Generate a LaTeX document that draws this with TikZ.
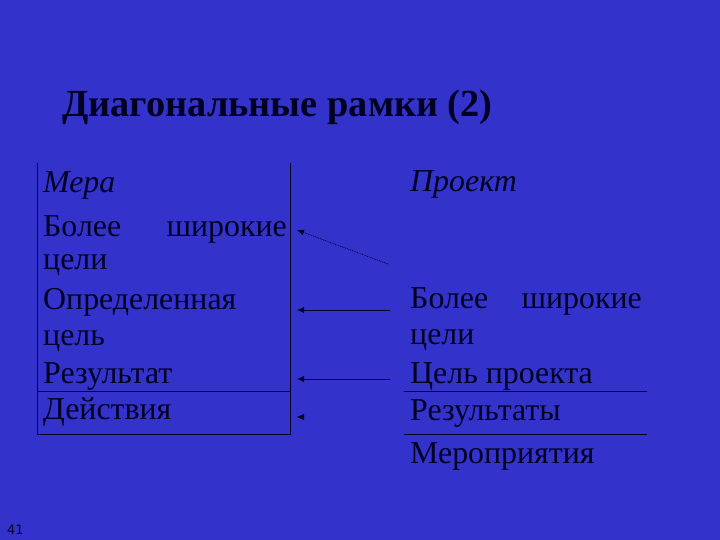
\documentclass[tikz,border=0pt]{standalone}
\usepackage{fontspec}
\setmainfont{Liberation Serif}
\setsansfont{DejaVu Sans}
\newfontfamily\slidefont{Liberation Serif}
\usetikzlibrary{arrows.meta}
\definecolor{slideblue}{RGB}{51,51,204}
\definecolor{ink}{RGB}{0,0,35}
\tikzset{
  cell/.style={anchor=base west,inner sep=0pt,text=ink,font=\slidefont\fontsize{32}{32}\selectfont},
  rule/.style={draw=ink,line width=0.8bp},
  link/.style={draw=ink,line width=0.8bp,{Latex[length=7bp,width=6bp]}-}
}
\begin{document}
\begin{tikzpicture}[x=1bp,y=-1bp]
            \fill[slideblue] (0,0) rectangle (720,540);
            \useasboundingbox (0,0) rectangle (720,540);
            \node[anchor=base west,inner sep=0pt,text=ink,font=\slidefont\fontsize{38.5}{38.5}\selectfont\bfseries] (title) at (62,117) {Диагональные рамки (2)};
            % left frame
            \draw[rule] (37,163)--(37,434)--(290,434)--(290,163);
            \draw[rule] (37,391)--(290,391);
            \node[cell] (mera) at (43,193) {\itshape Мера};
            \node[cell] (lwide) at (43,237) {Более};
            \node[cell,anchor=base east] (lwideb) at (287,237) {широкие};
            \node[cell] (lgoals) at (43,270) {цели};
            \node[cell] (lspec) at (43,309) {Определенная};
            \node[cell] (lgoal) at (43,345) {цель};
            \node[cell] (lres) at (43,383) {Результат};
            \node[cell] (lact) at (43,419) {Действия};
            % right frame
            \draw[rule] (404,391)--(647,391);
            \draw[rule] (404,434)--(647,434);
            \node[cell] (proj) at (410,192) {\itshape Проект};
            \node[cell] (rwide) at (410,308) {Более};
            \node[cell,anchor=base east] (rwideb) at (642,308) {широкие};
            \node[cell] (rgoals) at (410,344) {цели};
            \node[cell] (rgoal) at (410,383) {Цель проекта};
            \node[cell] (rres) at (410,420) {Результаты};
            \node[cell] (ract) at (410,463) {Мероприятия};
            % arrows
            \coordinate (a1) at (297,230); \coordinate (b1) at (388,264);
            \coordinate (a2) at (297,310); \coordinate (b2) at (390,310);
            \coordinate (a3) at (297,379); \coordinate (b3) at (390,379);
            \coordinate (a4) at (297,417); \coordinate (b4) at (304,417);
            \draw[link,densely dotted] (a1)--(b1);
            \draw[link] (a2)--(b2);
            \draw[link] (a3)--(b3);
            \fill[ink] (a4)--(b4 |- 0,414)--(b4 |- 0,420)--cycle;
            \node[anchor=base west,inner sep=0pt,text=ink,font=\sffamily\fontsize{13}{13}\selectfont] (page) at (7,534) {41};
        \end{tikzpicture}
\end{document}
